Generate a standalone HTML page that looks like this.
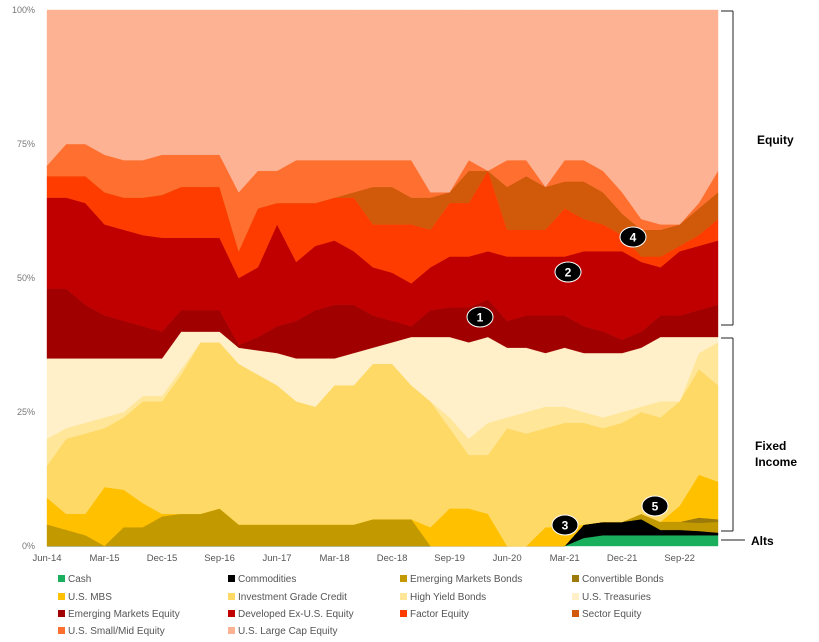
<!DOCTYPE html>
<html><head><meta charset="utf-8"><style>
body{margin:0;background:#fff;font-family:"Liberation Sans",sans-serif}
#wrap{position:relative;width:819px;height:642px;overflow:hidden}
svg text{font-family:"Liberation Sans",sans-serif}
</style></head><body>
<div id="wrap">
<svg id="chart" width="819" height="642"></svg>
</div>
<script>
const categories=["Jun-14","Sep-14","Dec-14","Mar-15","Jun-15","Sep-15","Dec-15","Mar-16","Jun-16","Sep-16","Dec-16","Mar-17","Jun-17","Sep-17","Dec-17","Mar-18","Jun-18","Sep-18","Dec-18","Mar-19","Jun-19","Sep-19","Dec-19","Mar-20","Jun-20","Sep-20","Dec-20","Mar-21","Jun-21","Sep-21","Dec-21","Mar-22","Jun-22","Sep-22","Dec-22","Mar-23"];
const xTickLabels=["Jun-14","Mar-15","Dec-15","Sep-16","Jun-17","Mar-18","Dec-18","Sep-19","Jun-20","Mar-21","Dec-21","Sep-22"];
const yTicks=[0,25,50,75,100];
const cash=[0,0,0,0,0,0,0,0,0,0,0,0,0,0,0,0,0,0,0,0,0,0,0,0,0,0,0,0,1.5,2,2,2,2,2,2,2];
const commodities=[0,0,0,0,0,0,0,0,0,0,0,0,0,0,0,0,0,0,0,0,0,0,0,0,0,0,0,0,2.5,2.5,2.5,3,1,1,0.8,0.5];
const emBonds=[4,3,2,0,3.5,3.5,5.5,6,6,7,4,4,4,4,4,4,4,5,5,5,0,0,0,0,0,0,0,0,0,0,0,1,1.5,1.5,1.5,2];
const convertible=[0,0,0,0,0,0,0,0,0,0,0,0,0,0,0,0,0,0,0,0,0,0,0,0,0,0,0,0,0,0,0,0,0,0,1,0.5];
const usMbs=[5,3,4,11,7,4.5,0.5,0,0,0,0,0,0,0,0,0,0,0,0,0,3.5,7,7,6,0,0,3.5,3.5,0,0,0,0,0,3,8,7];
const igCredit=[6,14,15,11,13.5,19,21,26,32,31,30,28,26,23,22,26,26,29,29,25,23.5,15,10,11,22,21,18.5,19.5,19,17.5,18.5,19,19.5,19.5,19.7,18];
const highYield=[5,2,2,2,1,1,1,1,0,0,0,0,0,0,0,0,0,0,0,0,0,2,3,6,2,4,4,3,2,2,2,1,3,0,3,8];
const treasuries=[15,13,12,11,10,7,7,7,2,2,3,4.5,6,8,9,5,6,3,4,9,12,15,18,16,13,12,10,11,11,12,11,11,12,12,3,1];
const emEquity=[13,13,10,8,7,6,5,4,4,4,0.5,2.5,5,7,9,10,9,6,4,2,5,5.5,6.5,7,5,6,7,6,5,4,2.5,3,4,4,5,6];
const devEquity=[17,17,19,17,17,17,17.5,13.5,13.5,13.5,12.5,13,19,11,12,12,10,9,9,8,8,9.5,9.5,9,12,11,11,11,14,15,16.5,13,9,12,12,12];
const factorEquity=[4,4,5,6,6,7,8,9.5,9.5,9.5,5,11,4,11,8,8,10,8,9,11,7,10,10,15,5,5,5,9,6,5,3,1,2,1,2,4];
const sectorEquity=[0,0,0,0,0,0,0,0,0,0,0,0,0,0,0,0,1,7,7,5,6,2,6,0,8,10,8,5,7,6,4,5,5,4,5,5];
const smallMid=[2,6,6,7,7,7,7.5,6,6,6,11,7,6,8,8,7,6,5,5,7,1,0,2,0,5,3,0,4,4,4,4,2,1,0,1,4];
const largeCap=[29,25,25,27,28,28,27,27,27,27,34,30,30,28,28,28,28,28,28,28,34,34,28,30,28,28,33,28,28,30,34,39,40,40,36,30];

const seriesNames=["Cash","Commodities","Emerging Markets Bonds","Convertible Bonds","U.S. MBS","Investment Grade Credit","High Yield Bonds","U.S. Treasuries","Emerging Markets Equity","Developed Ex-U.S. Equity","Factor Equity","Sector Equity","U.S. Small/Mid Equity","U.S. Large Cap Equity"];
const seriesData=[cash,commodities,emBonds,convertible,usMbs,igCredit,highYield,treasuries,emEquity,devEquity,factorEquity,sectorEquity,smallMid,largeCap];
const colors=["#1aaf5d","#000000","#c29a00","#9c7a0a","#ffc000","#ffd966","#ffe699","#fff0c9","#a00000","#c00000","#ff3c00","#d05a0a","#ff7030","#fcb293"];

const NS="http://www.w3.org/2000/svg";
const svg=document.getElementById('chart');
const X0=47,X1=718,Y0=546,Y1=10;
function xs(i){return X0+(X1-X0)*i/(categories.length-1);}
function ys(v){return Y0-(Y0-Y1)*v/100;}
function mk(tag,attrs){const e=document.createElementNS(NS,tag);for(const k in attrs)e.setAttribute(k,attrs[k]);svg.appendChild(e);return e;}
function slug(s){return s.toLowerCase().replace(/[^a-z0-9]+/g,'-').replace(/^-|-$/g,'');}

let base=categories.map(()=>0);
seriesData.forEach((arr,si)=>{
  const top=base.map((b,i)=>b+arr[i]);
  let d='';
  top.forEach((v,i)=>{d+=(i?'L':'M')+xs(i).toFixed(2)+','+ys(v).toFixed(2);});
  for(let i=base.length-1;i>=0;i--)d+='L'+xs(i).toFixed(2)+','+ys(base[i]).toFixed(2);
  d+='Z';
  const p=mk('path',{d:d,fill:colors[si],stroke:colors[si],'stroke-width':'0.4'});
  
  
  base=top;
});

yTicks.forEach(t=>{
  const tx=mk('text',{x:35,y:ys(t)+3,'text-anchor':'end','font-size':'9',fill:'#777'});
  tx.textContent=t+'%';
  
  
});
xTickLabels.forEach(l=>{
  const i=categories.indexOf(l);
  const tx=mk('text',{x:xs(i),y:561,'text-anchor':'middle','font-size':'9.5',fill:'#555'});
  tx.textContent=l;
  
  
});

// brackets
function line(x1,y1,x2,y2,name){const l=mk('line',{x1:x1,y1:y1,x2:x2,y2:y2,stroke:'#222','stroke-width':'1'});}
line(733,11,733,325,'equity-bracket');line(721,11,733,11,'equity-bracket-top');line(721,325,733,325,'equity-bracket-bottom');
line(733,338,733,531,'fixed-income-bracket');line(721,338,733,338,'fixed-income-bracket-top');line(721,531,733,531,'fixed-income-bracket-bottom');
line(721,540,745,540,'alts-line');
function label(x,y,t,name){const e=mk('text',{x:x,y:y,'font-size':'12','font-weight':'bold',fill:'#000'});e.textContent=t;}
label(757,144,'Equity','equity-label');label(755,450,'Fixed','fixed-income-label');label(755,466,'Income','fixed-income-label-2');label(751,545,'Alts','alts-label');

// markers
[[1,480,317],[2,568,272],[3,565,525],[4,633,237],[5,655,506]].forEach(m=>{
  const e=mk('ellipse',{cx:m[1],cy:m[2],rx:13,ry:10,fill:'#000',stroke:'#fff','stroke-width':'1'});
  
  
  const t=mk('text',{x:m[1],y:m[2]+4.5,'text-anchor':'middle','font-size':'12','font-weight':'bold',fill:'#fff'});
  t.textContent=m[0];
  
  
});

// legend
const legX=[58,228,400,572],legY=[579,597,614,631];
seriesNames.forEach((n,i)=>{
  const cx=legX[i%4],cy=legY[Math.floor(i/4)];
  const r=mk('rect',{x:cx,y:cy-4,width:7,height:7,fill:colors[i]});
  
  
  const t=mk('text',{x:cx+10,y:cy+3,'font-size':'10',fill:'#555'});
  t.textContent=n;
  
  
});
</script>
</body></html>
